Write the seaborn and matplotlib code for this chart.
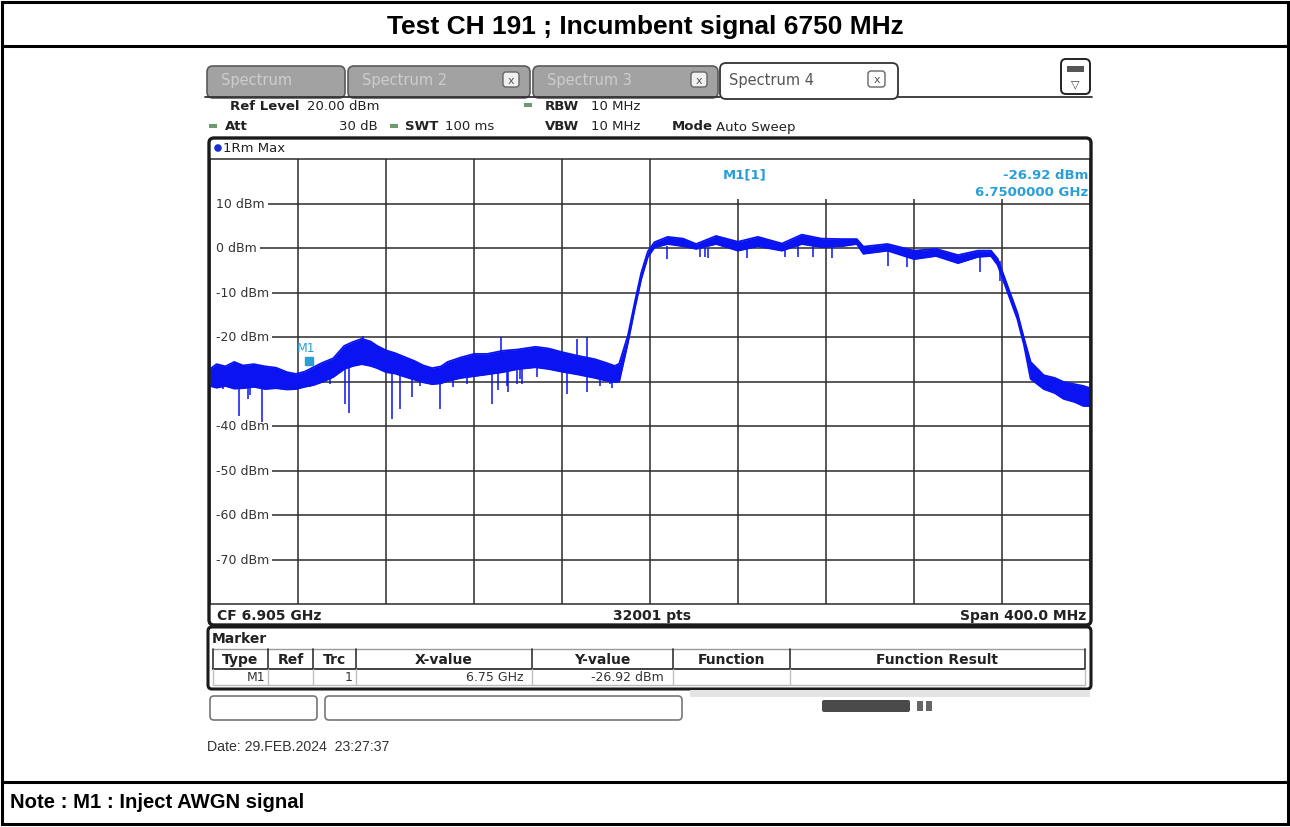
import numpy as np
import matplotlib
matplotlib.use("Agg")
import matplotlib.pyplot as plt
import seaborn as sns
from matplotlib.patches import FancyBboxPatch, Rectangle, Circle

# ------------------------------------------------------------------ data
title_text = "Test CH 191 ; Incumbent signal 6750 MHz"
note_text = "Note : M1 : Inject AWGN signal"
date_text = "Date: 29.FEB.2024  23:27:37"

center_mhz = 6905
span_mhz = 400
ref_level_dbm = 20
bottom_dbm = -80

# trace envelope (max-hold trace)
freq_mhz = [6705, 6708, 6712, 6716, 6720, 6725, 6730, 6735, 6740, 6744,
            6748, 6752, 6756, 6761, 6766, 6770, 6774, 6778, 6781, 6785,
            6789, 6794, 6798, 6802, 6806, 6810, 6813, 6819, 6825, 6831,
            6838, 6845, 6853, 6859, 6865, 6872, 6880, 6885, 6889,
            6891, 6895, 6898, 6901, 6904, 6907, 6913, 6920, 6926, 6935,
            6945, 6954, 6965, 6974, 6983, 6992, 6999, 7002, 7013, 7025,
            7035, 7045, 7054, 7060, 7063, 7067, 7072, 7075, 7078, 7084,
            7089, 7093, 7098, 7102, 7105]
upper_dbm = [-27.2, -26.1, -26.6, -25.6, -26.4, -26.1, -26.6, -26.9, -27.9, -28.3,
             -27.8, -26.8, -25.8, -24.8, -22.0, -21.1, -20.4, -21.0, -22.0, -23.0,
             -23.6, -24.6, -25.4, -26.4, -27.0, -26.6, -25.6, -24.6, -23.8, -23.8,
             -23.1, -22.8, -22.2, -22.6, -23.4, -24.2, -25.0, -25.8, -26.5,
             -26.0, -19.6, -12.4, -5.6, -0.8, 1.3, 2.5, 2.1, 0.9, 2.7,
             1.4, 2.5, 1.0, 3.0, 2.1, 2.0, 2.0, 0.3, 0.9, -0.6,
             -0.2, -1.6, -0.6, -0.6, -2.4, -7.8, -14.6, -20.3, -25.6, -28.6,
             -29.2, -30.1, -30.6, -31.0, -31.5]
lower_dbm = [-31.0, -31.4, -31.0, -31.6, -31.5, -31.2, -31.7, -31.5, -31.8, -31.7,
             -31.2, -30.8, -30.1, -29.0, -27.2, -26.5, -26.1, -26.5, -27.0, -27.9,
             -28.2, -29.0, -29.6, -30.2, -30.6, -30.4, -29.9, -29.2, -28.8, -28.4,
             -27.9, -27.2, -26.8, -27.2, -27.8, -28.4, -29.2, -29.8, -30.1,
             -30.0, -21.2, -13.8, -7.0, -2.0, 0.1, 0.9, 0.4, -0.2, 0.9,
             -0.6, 0.4, -0.6, 0.9, 0.2, 0.4, 0.9, -1.3, -0.6, -2.5,
             -1.8, -3.4, -2.0, -1.8, -3.8, -9.2, -16.0, -21.8, -29.4, -31.7,
             -32.6, -33.9, -34.6, -35.5, -35.5]

# narrow spikes of the trace: (frequency, start level, end level)
spike_freq = [6706.4, 6710.9, 6715.0, 6718.2, 6722.3, 6723.2, 6728.6, 6734.5,
              6750.5, 6758.6, 6759.5, 6766.4, 6768.2, 6787.7, 6791.4, 6796.8,
              6800.5, 6809.5, 6815.5, 6821.8, 6833.2, 6835.9, 6840.0, 6840.5,
              6844.5, 6845.9, 6846.8, 6853.6, 6867.3, 6876.4, 6882.3, 6886.8,
              6887.7,
              6774.5, 6837.3, 6871.8, 6876.4,
              6912.7, 6927.7, 6930.0, 6931.4, 6949.1, 6966.4, 6972.3, 6979.1,
              6987.7, 7013.2, 7021.8, 7055.0, 7064.1]
spike_from = [-30.0, -30.0, -30.0, -30.5, -30.5, -30.5, -30.5, -30.5,
              -30.0, -29.0, -29.0, -26.0, -26.0, -27.0, -28.0, -29.0,
              -29.5, -30.0, -29.0, -28.5, -28.0, -27.5, -27.5, -27.5,
              -27.0, -27.0, -27.0, -26.5, -27.0, -28.0, -29.0, -29.5,
              -29.5,
              -24.0, -24.0, -24.5, -25.0,
              0.5, 0.0, 0.0, 0.0, 0.0, 0.0, 0.5, 0.5,
              0.5, -0.5, -1.5, -1.5, -3.0]
spike_to = [-31.0, -31.7, -31.3, -37.8, -34.0, -33.0, -39.0, -31.7,
            -31.2, -29.4, -30.5, -35.0, -37.0, -38.4, -36.2, -33.5,
            -31.0, -36.2, -31.2, -30.6, -35.0, -32.0, -31.0, -32.4,
            -30.5, -29.4, -30.5, -29.0, -32.8, -32.4, -31.0, -30.6,
            -31.5,
            -19.8, -20.0, -20.4, -20.0,
            -2.5, -2.0, -2.0, -2.2, -2.3, -2.0, -2.0, -2.0,
            -2.3, -4.0, -4.3, -5.4, -7.4]

ytick_dbm = [10, 0, -10, -20, -30, -40, -50, -60, -70]
marker_freq_mhz = 6750
marker_dbm = -26.92
marker_label = "M1"

table_headers = ["Type", "Ref", "Trc", "X-value", "Y-value", "Function", "Function Result"]
table_row = ["M1", "", "1", "6.75 GHz", "-26.92 dBm", "", ""]

# ------------------------------------------------------------------ style
sns.set_theme(style="white")
plt.rcParams["font.family"] = ["DejaVu Sans"]

W, H = 1290, 828
fig = plt.figure(figsize=(W / 100, H / 100), dpi=100)
fig.patch.set_facecolor("white")

TRACE = "#0a14f0"
CYAN = "#2a9fd6"
GRID = "#2b2b2b"
TXT = "#222222"

# ---------------------------------------------------------- spectrum axes
x0, x1, y0, y1 = 210, 1090, 160, 605
ax = fig.add_axes([x0 / W, 1 - y1 / H, (x1 - x0) / W, (y1 - y0) / H])
ax.set_zorder(2)
f_lo, f_hi = center_mhz - span_mhz / 2, center_mhz + span_mhz / 2
ax.set_xlim(f_lo, f_hi)
ax.set_ylim(bottom_dbm, ref_level_dbm)
ax.set_xticks(np.arange(f_lo + span_mhz / 10, f_hi, span_mhz / 10))
ax.set_yticks(np.arange(bottom_dbm + 10, ref_level_dbm, 10))
ax.tick_params(length=0, labelbottom=False, labelleft=False)
ax.grid(True, color=GRID, lw=1.1, zorder=0)
ax.set_axisbelow(True)
for s in ax.spines.values():
    s.set_color(GRID)
    s.set_linewidth(1.1)
ax.set_facecolor("white")

# y labels inside plot
for v in ytick_dbm:
    ax.text(f_lo + 1.0, v, f" {v} dBm", ha="left", va="center", fontsize=9,
            color="#333333", zorder=1,
            bbox=dict(fc="white", ec="none", pad=2.0))

# marker info area (white box over grid)
ax.add_patch(Rectangle((6920, 11.0), f_hi - 6920, 9.0, fc="white", ec="none", zorder=1.5))
ax.text(6938, 16.6, "M1[1]", color=CYAN, fontsize=9.5, fontweight="bold",
        ha="left", va="center", zorder=6)
ax.text(f_hi - 0.8, 16.6, f"{marker_dbm:.2f} dBm", color=CYAN, fontsize=9.5,
        fontweight="bold", ha="right", va="center", zorder=6)
ax.text(f_hi - 0.8, 12.6, f"{marker_freq_mhz / 1000:.7f} GHz", color=CYAN, fontsize=9.5,
        fontweight="bold", ha="right", va="center", zorder=6)

# trace
ax.fill_between(freq_mhz, lower_dbm, upper_dbm, color=TRACE, lw=0, zorder=4)
sns.lineplot(x=freq_mhz, y=upper_dbm, ax=ax, color=TRACE, lw=1.3, zorder=4,
             sort=False, estimator=None)
sns.lineplot(x=freq_mhz, y=lower_dbm, ax=ax, color=TRACE, lw=1.3, zorder=4,
             sort=False, estimator=None)
ax.vlines(spike_freq, spike_from, spike_to, color=TRACE, lw=1.1, zorder=4)

# marker
ax.plot([marker_freq_mhz], [-25.4], marker="s", ms=5.5, color=CYAN,
        mec=CYAN, zorder=5)
ax.text(marker_freq_mhz - 1.5, -22.4, marker_label, color=CYAN,
        fontsize=9, ha="center", va="center", zorder=5)
ax.set_xlabel("")
ax.set_ylabel("")

# ---------------------------------------------------------- overlay (pixels)
ov = fig.add_axes([0, 0, 1, 1])
ov.set_zorder(3)
ov.patch.set_alpha(0)
ov.set_xlim(0, W)
ov.set_ylim(H, 0)
ov.axis("off")

def T(x, y, s, **kw):
    kw.setdefault("fontsize", 9.5)
    kw.setdefault("color", TXT)
    kw.setdefault("va", "center")
    ov.text(x, y, s, **kw)

# page frame
ov.add_patch(Rectangle((2, 3), W - 4, H - 6, fc="none", ec="black", lw=2.2))
ov.plot([2, W - 2], [47, 47], color="black", lw=2.2)
ov.plot([2, W - 2], [783, 783], color="black", lw=2.2)
T(W / 2, 27, title_text, ha="center", fontsize=19, fontweight="bold",
  family="Liberation Sans", color="black")
T(10, 803, note_text, ha="left", fontsize=14.6, fontweight="bold",
  family="Liberation Sans", color="black")

# tabs
tabs = [(207, 345, "Spectrum", False), (348, 530, "Spectrum 2", True),
        (533, 718, "Spectrum 3", True)]
for a, b, lab, has_x in tabs:
    ov.add_patch(FancyBboxPatch((a, 67), b - a, 32, boxstyle="round,pad=0,rounding_size=6",
                                fc="#a2a2a2", ec="#5a5a5a", lw=1.2))
    T(a + 14, 81, lab, fontsize=10.5, color="#cdcdcd")
    if has_x:
        ov.add_patch(FancyBboxPatch((b - 27, 73), 16, 15, boxstyle="round,pad=0,rounding_size=3",
                                    fc="#f0f0f0", ec="#666666", lw=1))
        T(b - 19, 80.5, "x", ha="center", fontsize=8, color="#555555")
ov.add_patch(FancyBboxPatch((720, 64), 178, 36, boxstyle="round,pad=0,rounding_size=6",
                            fc="white", ec="#333333", lw=1.3))
T(729, 80, "Spectrum 4", fontsize=10.5, color="#555555")
ov.add_patch(FancyBboxPatch((868, 72), 17, 16, boxstyle="round,pad=0,rounding_size=3",
                            fc="white", ec="#666666", lw=1))
T(876.5, 80, "x", ha="center", fontsize=8, color="#555555")
ov.plot([205, 720], [98, 98], color="#333333", lw=1.3)
ov.plot([898, 1092], [98, 98], color="#333333", lw=1.3)
ov.add_patch(FancyBboxPatch((1061, 60), 29, 35, boxstyle="round,pad=0,rounding_size=5",
                            fc="white", ec="#222222", lw=1.4))
ov.add_patch(Rectangle((1067, 67), 17, 6, fc="#555555", ec="none"))
T(1075.5, 84, "▽", ha="center", fontsize=8, color="#444444")

# settings rows
green = "#6e9a6e"
T(230, 106, "Ref Level", fontweight="bold")
T(307, 106, "20.00 dBm")
ov.add_patch(Rectangle((524, 104), 8, 4, fc=green, ec="none"))
T(545, 106, "RBW", fontweight="bold")
T(591, 106, "10 MHz")
ov.add_patch(Rectangle((209, 125), 8, 4, fc=green, ec="none"))
T(225, 127, "Att", fontweight="bold")
T(378, 127, "30 dB", ha="right")
ov.add_patch(Rectangle((390, 125), 8, 4, fc=green, ec="none"))
T(405, 127, "SWT", fontweight="bold")
T(445, 127, "100 ms")
T(545, 127, "VBW", fontweight="bold")
T(591, 127, "10 MHz")
T(672, 127, "Mode", fontweight="bold")
T(716, 127, "Auto Sweep")

# diagram frame
ov.add_patch(FancyBboxPatch((209, 139), 882, 487, boxstyle="round,pad=0,rounding_size=5",
                            fc="none", ec="#1a1a1a", lw=2.4))
ov.add_patch(Circle((218, 149), 3.8, fc="#1a2fd0", ec="none"))
T(223, 149, "1Rm Max", fontsize=9.5)
T(217, 616, "CF 6.905 GHz", fontweight="bold", fontsize=10)
T(652, 616, "32001 pts", fontweight="bold", ha="center", fontsize=10)
T(1086, 616, "Span 400.0 MHz", fontweight="bold", ha="right", fontsize=10)

# marker table panel
ov.add_patch(FancyBboxPatch((208, 628), 883, 62, boxstyle="round,pad=0,rounding_size=4",
                            fc="none", ec="#1a1a1a", lw=2.2))
T(212, 639, "Marker", fontweight="bold", fontsize=10)
col_edges = [213, 268, 313, 356, 532, 673, 790, 1085]
ov.plot([213, 1085], [650, 650], color="#9a9a9a", lw=1)
ov.plot([213, 1085], [670, 670], color="#333333", lw=1.3)
ov.plot([213, 1085], [686, 686], color="#bbbbbb", lw=1)
for cx in col_edges:
    ov.plot([cx, cx], [650, 670], color="#333333", lw=1.2)
    ov.plot([cx, cx], [670, 686], color="#c0c0c0", lw=1)
for i, h in enumerate(table_headers):
    T((col_edges[i] + col_edges[i + 1]) / 2, 660, h, ha="center", fontweight="bold",
      fontsize=10)
row_right = [265, 310, 353, 523, 664, 787, 1082]
for i, v in enumerate(table_row):
    if v:
        T(row_right[i], 678, v, ha="right", fontsize=9, color="#333333")

# lower status boxes
ov.add_patch(FancyBboxPatch((210, 697), 107, 24, boxstyle="round,pad=0,rounding_size=4",
                            fc="white", ec="#777777", lw=1.2))
ov.add_patch(FancyBboxPatch((325, 697), 357, 24, boxstyle="round,pad=0,rounding_size=4",
                            fc="white", ec="#777777", lw=1.2))
ov.add_patch(Rectangle((690, 691), 400, 7, fc="#e4e4e4", ec="none"))
ov.add_patch(FancyBboxPatch((822, 701), 88, 12, boxstyle="round,pad=0,rounding_size=2",
                            fc="#4a4a4a", ec="none"))
ov.add_patch(Rectangle((917, 702), 6, 10, fc="#666666", ec="none"))
ov.add_patch(Rectangle((926, 702), 6, 10, fc="#666666", ec="none"))

T(207, 747, date_text, fontsize=10.2, family="Liberation Sans", color="#333333")

fig.savefig("out.png", dpi=100)
